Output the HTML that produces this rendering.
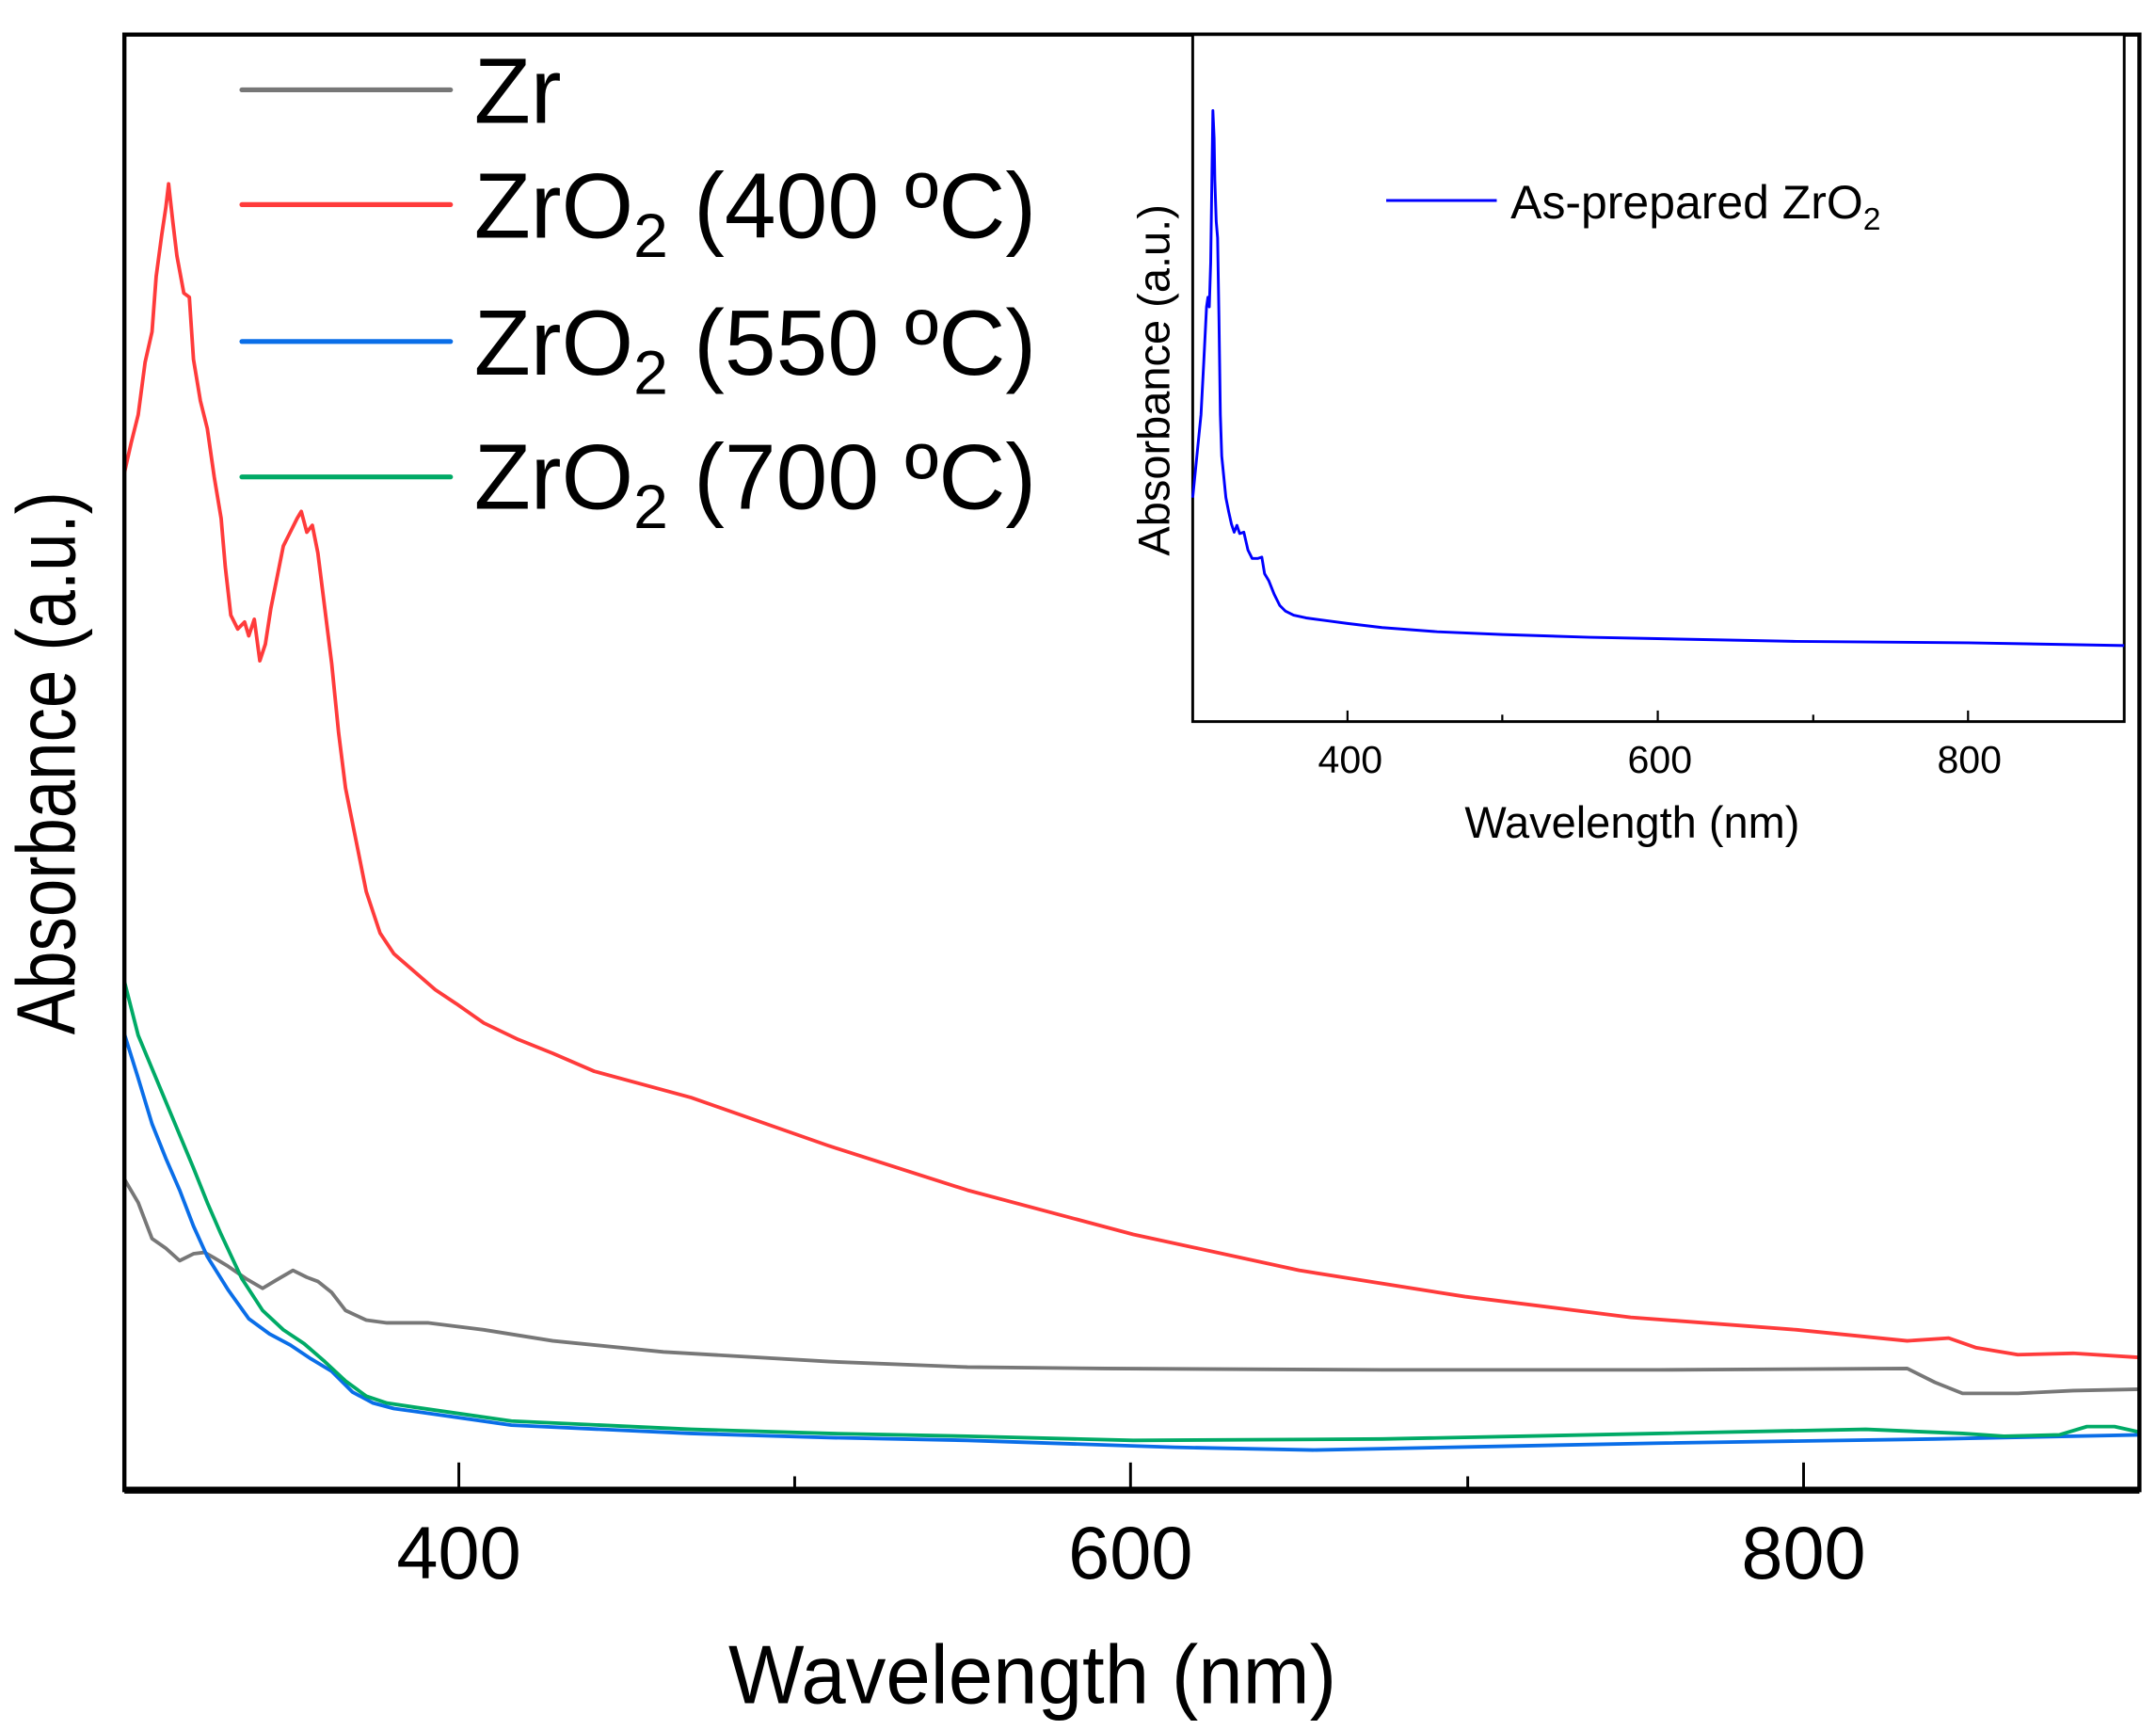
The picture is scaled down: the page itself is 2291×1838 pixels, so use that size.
<!DOCTYPE html>
<html><head><meta charset="utf-8"><style>html,body{margin:0;padding:0;background:#fff}svg{display:block}</style></head>
<body>
<svg width="2291" height="1838" viewBox="0 0 1560 1251.5" xmlns="http://www.w3.org/2000/svg" font-family="Liberation Sans, Arial, sans-serif">
<rect x="0" y="0" width="1560" height="1251.5" fill="#fff"/>
<g fill="none" stroke-width="2.6" stroke-linejoin="round">
<polyline stroke="#ff3b3b" points="90,342 95,320 100,300 105,262 110,240 113,200 117,170 120,150 122,133 125,160 128,185 133,212 137,215 140,260 145,290 150,310 155,345 160,375 163,410 167,445 172,455 177,450 180,460 184,448 188,478 192,466 196,440 200,420 205,395 210,385 215,375 218,370 222,385 226,380 230,400 235,440 240,480 245,530 250,570 255,595 260,620 265,645 270,660 275,675 285,690 300,703 315,716 330,726 350,740 375,752 400,762 430,775 500,794 600,829 700,861 820,893 940,919 1060,938 1180,953 1300,962 1380,970 1410,968 1430,975 1460,980 1500,979 1548,982"/>
<polyline stroke="#777" points="90,853 100,870 110,896 120,903 130,912 140,907 148,906 155,910 165,916 178,925 190,932 200,926 212,919 222,924 230,927 240,935 250,948 265,955 280,957 310,957 350,962 400,970 480,978 600,985 700,989 800,990 1000,991 1200,991 1380,990 1400,1000 1420,1008 1460,1008 1500,1006 1548,1005"/>
<polyline stroke="#0a6ee8" points="90,748 100,780 110,813 120,838 130,861 140,887 150,909 165,933 180,954 195,965 210,973 225,983 240,992 255,1007 270,1015 285,1019 300,1021 370,1031 500,1037 600,1040 700,1042 850,1047 950,1049 1100,1046 1200,1044 1400,1041 1548,1038"/>
<polyline stroke="#00aa66" points="90,710 100,749 110,773 120,797 130,821 140,845 150,870 160,893 175,925 190,948 205,962 220,972 235,985 250,999 265,1010 280,1015 300,1018 370,1028 500,1034 600,1037 700,1039 820,1042 1000,1041 1200,1037 1350,1034 1420,1037 1450,1039 1490,1038 1510,1032 1530,1032 1548,1036"/>
</g>
<rect x="90" y="25" width="1458" height="1053" fill="none" stroke="#000" stroke-width="3"/>
<line x1="90" y1="1078" x2="1548" y2="1078" stroke="#000" stroke-width="5"/>
<g stroke="#000" stroke-width="2">
<line x1="332" y1="1078" x2="332" y2="1058"/><line x1="818" y1="1078" x2="818" y2="1058"/><line x1="1305" y1="1078" x2="1305" y2="1058"/>
<line x1="575" y1="1078" x2="575" y2="1068"/><line x1="1062" y1="1078" x2="1062" y2="1068"/>
</g>
<g font-size="54" text-anchor="middle" fill="#000">
<text x="332" y="1142">400</text><text x="818" y="1142">600</text><text x="1305" y="1142">800</text>
</g>
<text x="747" y="1232" font-size="60" text-anchor="middle" textLength="440" lengthAdjust="spacingAndGlyphs">Wavelength (nm)</text>
<text transform="translate(54,552) rotate(-90)" font-size="60" text-anchor="middle" textLength="393" lengthAdjust="spacingAndGlyphs">Absorbance (a.u.)</text>
<g stroke-width="3.5" stroke-linecap="round">
<line x1="175" y1="65" x2="326" y2="65" stroke="#777"/>
<line x1="175" y1="148" x2="326" y2="148" stroke="#ff3b3b"/>
<line x1="175" y1="247" x2="326" y2="247" stroke="#0a6ee8"/>
<line x1="175" y1="345" x2="326" y2="345" stroke="#00aa66"/>
</g>
<g font-size="67" fill="#000">
<text x="343" y="89">Zr</text>
<text x="343" y="172">ZrO<tspan font-size="45" dy="14">2</tspan><tspan dy="-14"> (400 ºC)</tspan></text>
<text x="343" y="271">ZrO<tspan font-size="45" dy="14">2</tspan><tspan dy="-14"> (550 ºC)</tspan></text>
<text x="343" y="368">ZrO<tspan font-size="45" dy="14">2</tspan><tspan dy="-14"> (700 ºC)</tspan></text>
</g>
<rect x="863" y="25" width="674" height="497" fill="#fff" stroke="#000" stroke-width="2"/>
<polyline fill="none" stroke="#0000ff" stroke-width="2" stroke-linejoin="round" points="863,360 866,330 869,300 871,262 873,222 874,215 875,222 876,190 877,120 877.6,80 878.5,100 879,130 880,160 881,172 882,230 883,300 884,330 885.5,345 887,360 889,370 891,379 893,385 895,380 897,386 900,385 903,398 906,404 910,404 913,403 915,415 918,420 922,430 926,438 930,442 936,445 945,447 960,449 975,451 1000,454 1040,457 1087,459 1150,461 1199,462 1300,464 1424,465 1537,467"/>
<g stroke="#000" stroke-width="1.5">
<line x1="975" y1="522" x2="975" y2="514"/><line x1="1199.5" y1="522" x2="1199.5" y2="514"/><line x1="1424" y1="522" x2="1424" y2="514"/>
<line x1="1087" y1="522" x2="1087" y2="517"/><line x1="1312" y1="522" x2="1312" y2="517"/>
</g>
<g font-size="28" text-anchor="middle" fill="#000">
<text x="977" y="559">400</text><text x="1201" y="559">600</text><text x="1425" y="559">800</text>
</g>
<text x="1181" y="606" font-size="32" text-anchor="middle">Wavelength (nm)</text>
<text transform="translate(846,275) rotate(-90)" font-size="32" text-anchor="middle">Absorbance (a.u.)</text>
<line x1="1003" y1="145" x2="1083" y2="145" stroke="#0000ff" stroke-width="2"/>
<text x="1093" y="158" font-size="34">As-prepared ZrO<tspan font-size="23" dy="8">2</tspan></text>
</svg>
</body></html>
